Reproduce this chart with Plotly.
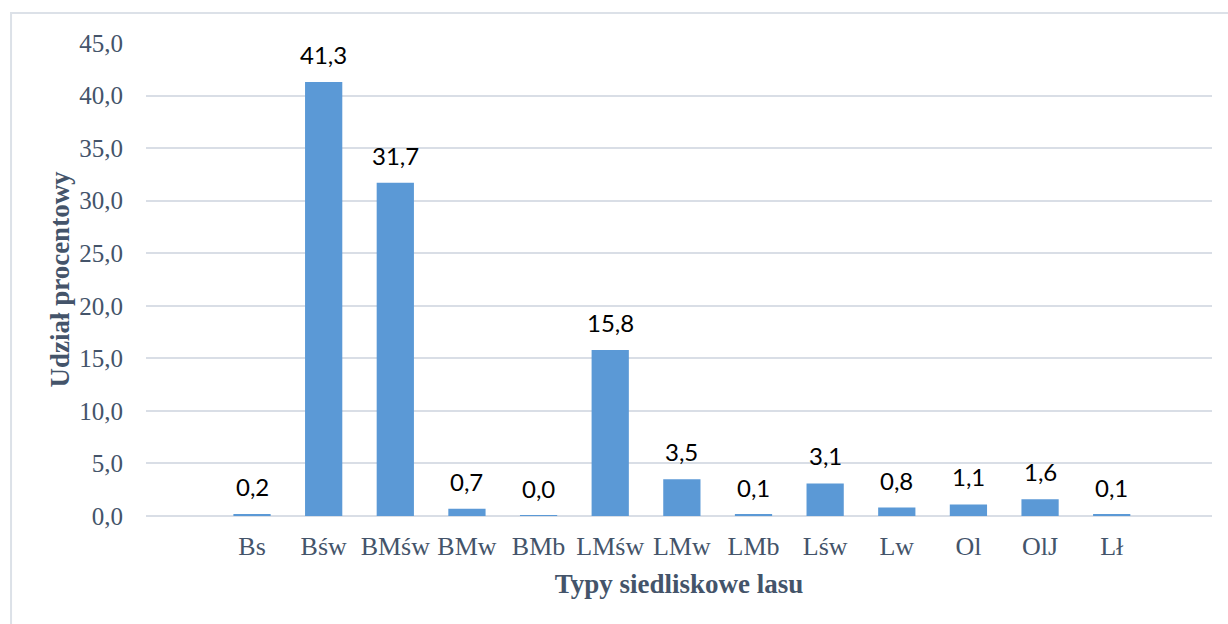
import plotly.graph_objects as go

categories = ["Bs", "Bśw", "BMśw", "BMw", "BMb", "LMśw", "LMw", "LMb", "Lśw", "Lw", "Ol", "OlJ", "Lł"]
values = [0.2, 41.3, 31.7, 0.7, 0.04, 15.8, 3.5, 0.1, 3.1, 0.8, 1.1, 1.6, 0.1]
y_ticks = [0, 5, 10, 15, 20, 25, 30, 35, 40, 45]

x_title = "Typy siedliskowe lasu"
y_title = "Udział procentowy"

axis_color = "#44546A"
grid_color = "#D9DEE6"
bar_color = "#5B99D6"

fig = go.Figure()
fig.add_trace(go.Bar(
    x=categories, y=values, width=0.52,
    marker=dict(color=bar_color, line=dict(width=0)),
    hoverinfo="skip",
))

for c, v in zip(categories, values):
    fig.add_annotation(
        x=c, y=v, text=f"{v:.1f}".replace(".", ","),
        showarrow=False, yanchor="bottom", yshift=11,
        font=dict(family="Lato", size=24, color="#000000"),
    )

fig.add_shape(
    type="rect", xref="paper", yref="paper",
    x0=-0.1266, x1=1.03, y0=-0.26, y1=1.0634,
    line=dict(color="#DCE1E8", width=2), fillcolor="rgba(0,0,0,0)", layer="below",
)

fig.update_layout(
    width=1228, height=624,
    margin=dict(l=146, r=16, t=43, b=108),
    paper_bgcolor="white", plot_bgcolor="white",
    separators=", ",
    showlegend=False,
    xaxis=dict(
        type="category", range=[-1.48, 13.4],
        tickfont=dict(family="Liberation Serif", size=26, color=axis_color),
        showgrid=False, showline=False, zeroline=False, ticks="",
        ticklabelstandoff=12,
        title=dict(text=f"<b>{x_title}</b>", standoff=14,
                   font=dict(family="Liberation Serif", size=27, color=axis_color)),
    ),
    yaxis=dict(
        range=[0, 45], tickvals=y_ticks, tickformat=".1f",
        tickfont=dict(family="Liberation Serif", size=25, color=axis_color),
        showgrid=True, gridcolor=grid_color, gridwidth=1.5,
        zeroline=True, zerolinecolor=grid_color, zerolinewidth=1.5,
        showline=False, ticks="", ticklabelstandoff=22,
        title=dict(text=f"<b>{y_title}</b>", standoff=1,
                   font=dict(family="Liberation Serif", size=27, color=axis_color)),
    ),
)

fig.write_html("out.html", config={"displayModeBar": False},
               post_script="document.body.style.margin='0';")
